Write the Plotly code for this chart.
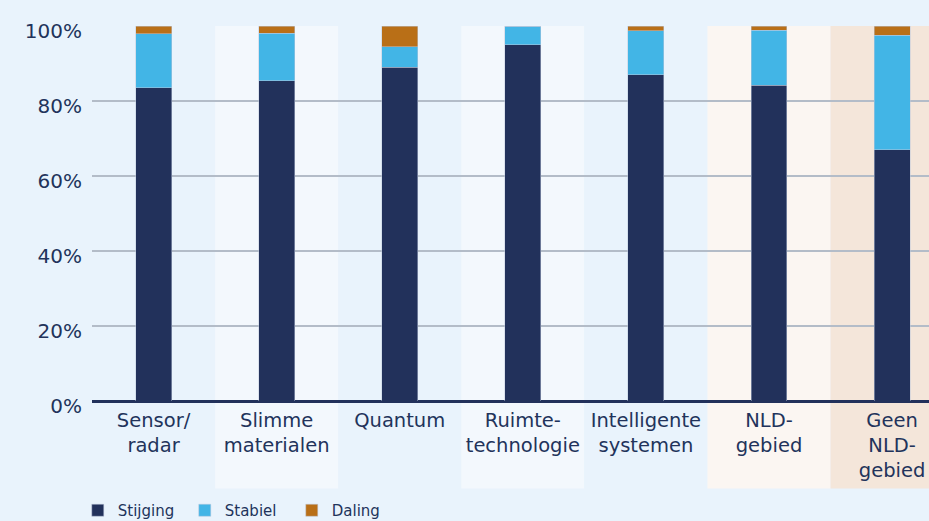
import plotly.graph_objects as go

categories = ["Sensor/<br>radar", "Slimme<br>materialen", "Quantum", "Ruimte-<br>technologie",
              "Intelligente<br>systemen", "NLD-<br>gebied", "Geen<br>NLD-<br>gebied"]
stijging = [83.5, 85.4, 89.0, 95.0, 87.0, 84.2, 67.0]
stabiel = [14.5, 12.7, 5.5, 5.0, 11.7, 14.7, 30.6]
daling = [2.0, 1.9, 5.5, 0.0, 1.3, 1.1, 2.4]
y_ticks = [0, 20, 40, 60, 80, 100]
y_ticklabels = ["0%", "20%", "40%", "60%", "80%", "100%"]
band_colors = ["#E9F3FC", "#F3F8FD", "#E9F3FC", "#F3F8FD", "#E9F3FC", "#FBF6F2", "#F4E6DA"]

NAVY = "#22315B"
LIGHT = "#42B5E6"
ORANGE = "#B96F17"
BG = "#E9F3FC"
TEXT = "#22335B"
FONT = "DejaVu Sans"

fig = go.Figure()
edge = dict(color="rgba(190,200,220,0.6)", width=0.8)
fig.add_trace(go.Bar(x=categories, y=stijging, name="Stijging", marker=dict(color=NAVY, line=edge)))
fig.add_trace(go.Bar(x=categories, y=stabiel, name="Stabiel", marker=dict(color=LIGHT, line=edge)))
fig.add_trace(go.Bar(x=categories, y=daling, name="Daling", marker=dict(color=ORANGE, line=edge)))

shapes = []
for i, c in enumerate(band_colors):
    shapes.append(dict(type="rect", xref="x", yref="paper", x0=i - 0.5, x1=i + 0.5,
                       y0=-0.233, y1=1.0, fillcolor=c, line=dict(width=0), layer="below"))

fig.update_layout(
    barmode="stack",
    bargap=0.708,
    width=929, height=521,
    margin=dict(l=92, r=0, t=26, b=119.5, autoexpand=False),
    paper_bgcolor=BG, plot_bgcolor=BG,
    font=dict(family=FONT, color=TEXT),
    shapes=shapes,
    showlegend=True,
    legend=dict(orientation="h", x=-0.017, y=-0.292, xanchor="left", yanchor="middle",
                font=dict(size=15, color=TEXT), bgcolor="rgba(0,0,0,0)", traceorder="normal",
                entrywidth=62),
    xaxis=dict(range=[-0.5, 6.3], showgrid=False, tickfont=dict(size=19.5, color=TEXT),
               ticks="", showline=False, fixedrange=True, ticklabelstandoff=5),
    yaxis=dict(range=[0, 100], tickvals=y_ticks, ticktext=y_ticklabels,
               tickfont=dict(size=20, color=TEXT), showgrid=True, gridcolor="#B3BCC8",
               gridwidth=1.5, zeroline=True, zerolinecolor=NAVY, zerolinewidth=2.5,
               ticks="", ticklabelstandoff=9, ticklabelshift=5, fixedrange=True),
)

fig.write_html("out.html", config={"displayModeBar": False},
               post_script="document.body.style.margin='0';document.body.style.overflow='hidden';")
